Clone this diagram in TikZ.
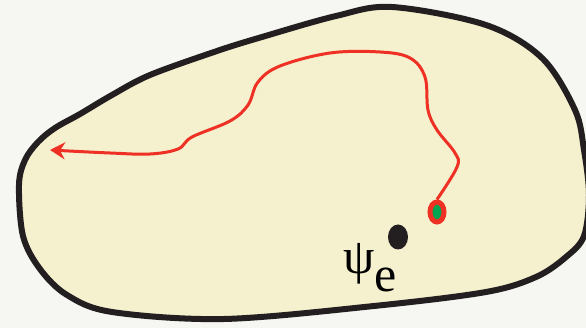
\documentclass[tikz,border=0pt]{standalone}
\usepackage{fontspec}
\setmainfont{Liberation Serif}
\usetikzlibrary{shapes.geometric, arrows.meta}
\definecolor{paper}{HTML}{F6F7F2}
\definecolor{cream}{HTML}{F5F0CE}
\definecolor{ink}{HTML}{231F20}
\definecolor{trailred}{HTML}{EE3124}
\definecolor{seedgreen}{HTML}{00A651}
\tikzstyle{region} = [draw=ink, line width=6pt, fill=cream, line join=round]
\tikzstyle{trail} = [draw=trailred, line width=3pt, -{Stealth[length=15pt, width=17pt, inset=5pt]}]
\tikzstyle{seed} = [ellipse, draw=trailred, line width=5pt, fill=seedgreen, minimum width=14pt, minimum height=20pt, inner sep=0pt]
\tikzstyle{point} = [ellipse, fill=ink, minimum width=20pt, minimum height=25pt, inner sep=0pt]

\begin{document}
\begin{tikzpicture}[x=1pt, y=-1pt]
    \useasboundingbox (0,0) rectangle (586,328);
    \fill[paper] (0,0) rectangle (586,328);
    \clip (0,0) rectangle (586,328);
    % domain
    \draw[region] plot[smooth cycle, tension=0.55] coordinates {
        (19,185) (25,160) (38,142) (55,128) (80,114) (112,95) (150,75)
        (217,51) (262,37) (336,16) (392,7) (486,25) (542,58) (575,110)
        (584,150) (589,195) (584,236) (566,257) (536,277) (486,292)
        (374,306) (224,319) (112,312) (67,295) (40,269) (23,236)};
    % start point and trajectory
    \node (src) [seed] at (437,212) {};
    \node (fix) [point] at (398,237) {};
    \node (lbl) at (370,268) {\fontsize{50}{50}\selectfont ψ\raisebox{-0.36em}{e}};
    \coordinate (tip) at (50,150);
    \draw [trail] plot[smooth, tension=0.6] coordinates {
        (src.north) (457,167) (455,153) (437,130) (428,110) (425,77)
        (410,58) (380,52) (330,53) (280,66) (258,82) (248,105) (230,121)
        (192,137) (178,149) (150,154) (110,153) (tip)};
\end{tikzpicture}
\end{document}
